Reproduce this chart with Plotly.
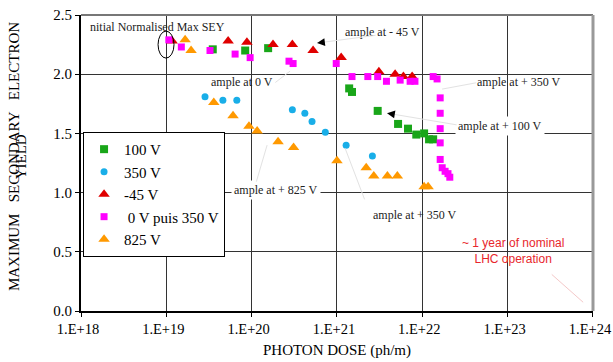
import math
import plotly.graph_objects as go

# ---------------- data ----------------
v100_x = [3.5e19, 8.4e19, 1.56e20, 1.39e21, 1.50e21, 3.0e21, 5.2e21, 6.8e21, 8.5e21, 1.05e22, 1.2e22, 1.34e22]
v100_y = [2.21, 2.20, 2.22, 1.88, 1.85, 1.69, 1.58, 1.54, 1.49, 1.50, 1.45, 1.45]

v350_x = [2.84e19, 4.6e19, 6.7e19, 3.0e20, 4.2e20, 5.1e20, 7.3e20, 1.28e21, 2.6e21]
v350_y = [1.81, 1.78, 1.78, 1.70, 1.67, 1.60, 1.51, 1.40, 1.31]

vm45_x = [1.17e19, 5.3e19, 8.8e19, 1.78e20, 3.0e20, 5.25e20, 1.12e21, 3.1e21, 4.8e21, 6.0e21, 7.6e21]
vm45_y = [2.28, 2.28, 2.27, 2.25, 2.25, 2.20, 2.14, 2.02, 2.00, 1.98, 1.98]

v0p350_x = [1.07e19, 1.5e19, 3.25e19, 6.4e19, 9.6e19, 2.74e20, 3.06e20, 9.8e20, 1.5e21, 2.3e21,
            3.0e21, 3.8e21, 5.5e21, 7.2e21, 8.2e21, 1.34e22, 1.49e22, 1.62e22, 1.62e22, 1.62e22,
            1.62e22, 1.62e22, 1.71e22, 1.85e22, 2.0e22, 2.1e22]
v0p350_y = [2.29, 2.23, 2.20, 2.17, 2.14, 2.11, 2.09, 2.09, 1.98, 1.98,
            1.98, 1.94, 1.95, 1.94, 1.94, 1.98, 1.96, 1.80, 1.67, 1.54,
            1.42, 1.28, 1.21, 1.18, 1.16, 1.13]

v825_x = [1.66e19, 1.95e19, 3.6e19, 6.05e19, 9.3e19, 1.16e20, 2.04e20, 3.1e20, 1.0e21, 2.2e21,
          2.7e21, 3.9e21, 5.1e21, 1.05e22, 1.17e22]
v825_y = [2.29, 2.20, 1.76, 1.65, 1.56, 1.52, 1.43, 1.38, 1.27, 1.21,
          1.14, 1.14, 1.14, 1.05, 1.05]

series_names = ["100 V", "350 V", "-45 V", " 0 V puis 350 V", "825 V"]

x_tickvals = [1e18, 1e19, 1e20, 1e21, 1e22, 1e23, 1e24]
x_ticktext = ["1.E+18", "1.E+19", "1.E+20", "1.E+21", "1.E+22", "1.E+23", "1.E+24"]

# ---------------- figure ----------------
SERIF = "Liberation Serif, Times New Roman, serif"
SANS = "Liberation Sans, Arial, sans-serif"

fig = go.Figure()
styles = [
    dict(symbol="square", size=8, color="#19a619"),
    dict(symbol="circle", size=7, color="#19aee8"),
    dict(symbol="triangle-up", size=10, color="#e00000"),
    dict(symbol="square", size=7, color="#ff00ff"),
    dict(symbol="triangle-up", size=10, color="#ff9900"),
]
datasets = [(v100_x, v100_y), (v350_x, v350_y), (vm45_x, vm45_y), (v0p350_x, v0p350_y), (v825_x, v825_y)]
for (xs, ys), name, st in zip(datasets, series_names, styles):
    fig.add_trace(go.Scatter(x=xs, y=ys, mode="markers", name=name,
                             marker=dict(symbol=st["symbol"], size=st["size"], color=st["color"],
                                         line=dict(width=0))))

fig.update_layout(
    width=613, height=362,
    margin=dict(l=81, r=20, t=15, b=51, autoexpand=False),
    paper_bgcolor="white", plot_bgcolor="white",
    font=dict(family=SERIF, size=15, color="black"),
    showlegend=True,
    legend=dict(x=0.004, y=0.605, xanchor="left", yanchor="top",
                bgcolor="white", bordercolor="black", borderwidth=1,
                font=dict(family=SERIF, size=15), tracegroupgap=0,
                itemwidth=30),
    xaxis=dict(type="log", range=[18, 24.0005], tickvals=x_tickvals, ticktext=x_ticktext,
               showgrid=True, gridcolor="#333333", gridwidth=1, automargin=False,
               showline=True, linecolor="black", linewidth=2,
               ticks="outside", ticklen=4, tickcolor="black",
               ticklabeloverflow="allow", ticklabelshift=-3,
               tickfont=dict(family=SERIF, size=14.5),
               title=dict(text="PHOTON DOSE (ph/m)", font=dict(family=SERIF, size=15), standoff=8),
               zeroline=False),
    yaxis=dict(range=[0, 2.5], dtick=0.5, tickformat=".1f", automargin=False,
               showgrid=True, gridcolor="#333333", gridwidth=1,
               showline=True, linecolor="black", linewidth=2,
               ticks="outside", ticklen=4, tickcolor="black",
               tickfont=dict(family=SERIF, size=15),
               zeroline=False),
)

# plot border (top grey, right thick grey)
fig.add_shape(type="line", xref="x domain", yref="y domain", x0=0, x1=1, y0=1, y1=1,
              line=dict(color="#777777", width=2))
fig.add_shape(type="line", xref="x domain", yref="y domain", x0=1, x1=1, y0=0, y1=1,
              line=dict(color="#999999", width=3))

# ellipse around initial point
fig.add_shape(type="circle", xref="x", yref="y", x0=8.0e18, x1=1.23e19, y0=2.136, y1=2.364,
              line=dict(color="black", width=1))

# y title (two overlapping lines as in the original)
fig.add_annotation(text="MAXIMUM&nbsp;&nbsp;&nbsp;SECONDARY&nbsp;&nbsp;&nbsp;ELECTRON", xref="paper", yref="paper",
                   x=-0.125 - 3 / 512, y=0.52, xanchor="center", yanchor="middle", textangle=-90,
                   showarrow=False, font=dict(family=SERIF, size=15))
fig.add_annotation(text="YIELD", xref="paper", yref="paper",
                   x=-0.095 - 11 / 512, y=0.49 + 9 / 296, xanchor="center", yanchor="middle", textangle=-90,
                   showarrow=False, font=dict(family=SERIF, size=15))

def label(text, lx, ly, bg=None, color="#222222", family=SERIF, size=12):
    fig.add_annotation(text=text, x=lx, y=ly, xref="x", yref="y", showarrow=False,
                       font=dict(family=family, size=size, color=color),
                       bgcolor=bg if bg else "rgba(0,0,0,0)", borderpad=2)

def pointer(tx, ty, hx, hy, color="black", line_color="#e2e2e2"):
    # faint line from tail to head
    fig.add_annotation(x=hx, y=hy, ax=tx, ay=ty, xref="x", yref="y", axref="x", ayref="y",
                       text="", showarrow=True, arrowhead=0, arrowwidth=1, arrowcolor=line_color)
    # small arrow head
    fig.add_annotation(x=hx, y=hy, ax=hx + (tx - hx) * 0.06, ay=hy + (ty - hy) * 0.06,
                       xref="x", yref="y", axref="x", ayref="y",
                       text="", showarrow=True, arrowhead=2, arrowsize=1.3, arrowwidth=1.2,
                       arrowcolor=color)

label("nitial Normalised Max SEY", 18.891, 2.398)

label("ample at - 45 V", 21.529, 2.356)
pointer(21.47, 2.33, 20.767, 2.263)

label("ample at 0 V", 19.887, 1.933)
pointer(20.26, 1.92, 20.450, 2.026)

label("ample at + 350 V", 23.135, 1.933)
pointer(22.65, 1.93, 22.232, 1.874)

label("ample at + 100 V", 22.912, 1.561, bg="white")
pointer(22.42, 1.57, 21.587, 1.671)

label("ample at + 825 V", 20.286, 1.020, bg="white")
pointer(20.05, 1.08, 20.181, 1.401)

label("ample at + 350 V", 21.916, 0.809)
pointer(21.33, 0.93, 21.095, 1.375)

label("~ 1 year of nominal<br>LHC operation", 23.065, 0.505, color="#e8262b", family=SANS, size=12)
pointer(23.5, 0.32, 23.885, 0.074, color="#e8262b", line_color="#f4c8c8")

fig.write_html("out.html", config={"displayModeBar": False},
               post_script="document.body.style.margin='0';document.body.style.overflow='hidden';")
